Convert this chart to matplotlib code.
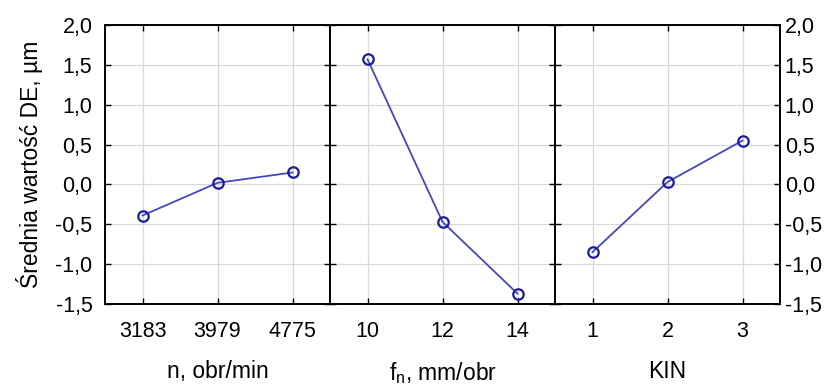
import matplotlib
matplotlib.use("Agg")
import matplotlib.pyplot as plt
from matplotlib.ticker import FuncFormatter, MultipleLocator

plt.rcParams['font.family'] = ['Liberation Sans', 'DejaVu Sans']
plt.rcParams['mathtext.fontset'] = 'custom'
plt.rcParams['mathtext.rm'] = 'Liberation Sans'
plt.rcParams['mathtext.it'] = 'Liberation Sans'

# Factor levels and mean DE values for each factor
n_levels = ['3183', '3979', '4775']
n_means = [-0.39, 0.02, 0.15]

fn_levels = ['10', '12', '14']
fn_means = [1.57, -0.47, -1.37]

kin_levels = ['1', '2', '3']
kin_means = [-0.85, 0.03, 0.55]

x_titles = ['n, obr/min', r'f$_\mathregular{n}$, mm/obr', 'KIN']
y_title = 'Średnia wartość DE, µm'

panels = [(n_levels, n_means), (fn_levels, fn_means), (kin_levels, kin_means)]

W, H = 836, 385
fig = plt.figure(figsize=(W / 100, H / 100), dpi=100)

left_px, right_px = 105, 780
top_px, bot_px = 25, 304
pw = (right_px - left_px) / 3

line_col = '#4646c0'
edge_col = '#1c1c9c'
tick_fs = 15.5
label_fs = 16.5
fmt = FuncFormatter(lambda v, p: f'{v:.1f}'.replace('.', ','))

for i, ((levels, means), title) in enumerate(zip(panels, x_titles)):
    ax = fig.add_axes([(left_px + i * pw) / W, 1 - bot_px / H,
                       pw / W, (bot_px - top_px) / H])
    xs = list(range(len(levels)))
    ax.plot(xs, means, color=line_col, lw=1.3, marker='o', ms=7.5,
            mfc='none', mec=edge_col, mew=1.6, zorder=3)
    ax.set_xlim(-0.5, 2.5)
    ax.set_ylim(-1.5, 2.0)
    ax.yaxis.set_major_locator(MultipleLocator(0.5))
    ax.yaxis.set_major_formatter(fmt)
    ax.set_xticks(xs)
    ax.set_xticklabels(levels)
    ax.grid(True, color='#d8d8d8', lw=0.9)
    ax.set_axisbelow(True)
    for s in ax.spines.values():
        s.set_linewidth(1.4)
        s.set_color('black')
    ax.tick_params(axis='x', direction='in', length=4, width=1, top=True,
                   labelsize=tick_fs, pad=12, colors='black')
    ax.tick_params(axis='y', direction='in', length=4, width=1,
                   left=True, right=True, labelsize=tick_fs, colors='black')
    if i == 0:
        ax.tick_params(axis='y', labelleft=True, labelright=False, pad=9)
        ax.set_ylabel(y_title, fontsize=label_fs, labelpad=9)
    elif i == 2:
        ax.tick_params(axis='y', labelleft=False, labelright=True, pad=3.5)
    else:
        ax.tick_params(axis='y', labelleft=False, labelright=False)
    ax.set_xlabel(title, fontsize=label_fs, labelpad=13)

fig.savefig('out.png', dpi=100, facecolor='white')
